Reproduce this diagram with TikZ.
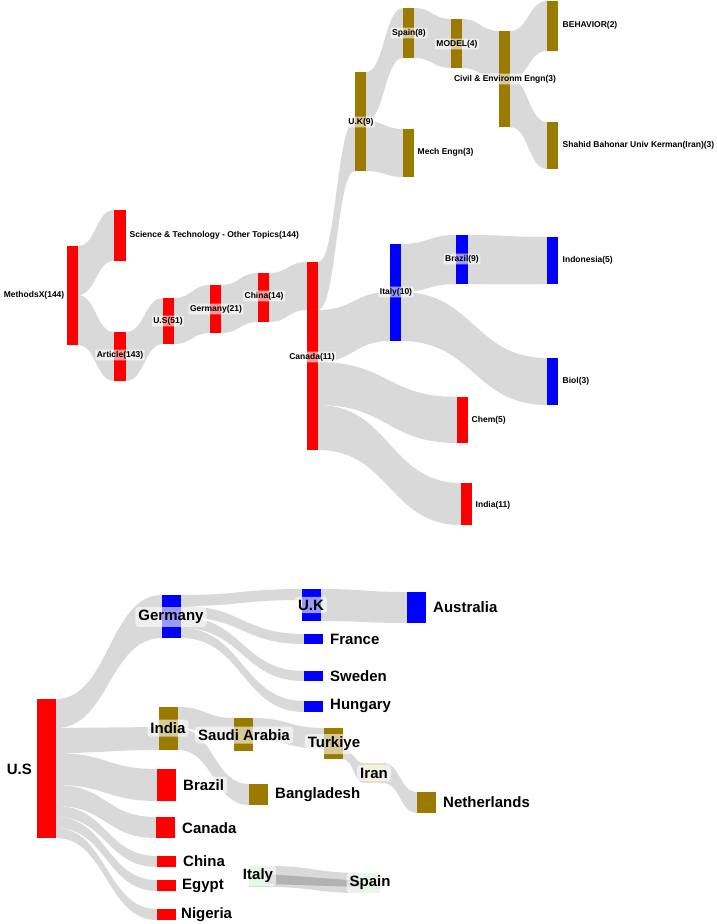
\documentclass[tikz,border=0pt]{standalone}
\usepackage{fontspec}
\setmainfont{Liberation Sans}
\definecolor{linkgray}{HTML}{D9D9D9}
\definecolor{olive}{HTML}{9A7B00}
\definecolor{tan}{HTML}{E8DEC0}
\definecolor{mint}{HTML}{C6E6C6}
% ribbon: x1, top1, bottom1, x2, top2, bottom2
\newcommand\flow[6]{%
  \pgfmathsetmacro\fmid{(#1+#4)/2}%
  \fill[linkgray] (#1,#2) .. controls (\fmid,#2) and (\fmid,#5) .. (#4,#5)
    -- (#4,#6) .. controls (\fmid,#6) and (\fmid,#3) .. (#1,#3) -- cycle;}
\begin{document}
\begin{tikzpicture}[x=1pt,y=-1pt,
    small/.style={font=\fontsize{8.5}{10}\selectfont\bfseries,inner sep=1.5pt,
      fill=white,fill opacity=0.6,text opacity=1,rounded corners=1pt},
    big/.style={font=\fontsize{15}{18}\selectfont\bfseries,inner sep=3pt,
      fill=white,fill opacity=0.6,text opacity=1,rounded corners=3pt},
    plain/.style={fill=none}]
\useasboundingbox (0,0) rectangle (716,924);

% links, top chart
\flow{78}{246}{295}{114}{210}{261}
\flow{78}{295}{345}{114}{332}{381}
\flow{126}{332}{381}{163}{298}{344}
\flow{174}{298}{344}{210}{285}{333}
\flow{221}{285}{333}{258}{273}{322}
\flow{269}{273}{322}{307}{262}{310}
\flow{318}{262}{310}{355}{121}{171}
\flow{318}{310}{362}{390}{292}{341}
\flow{318}{362}{405}{457}{397}{443}
\flow{318}{405}{450}{461}{483}{525}
\flow{366}{72}{121}{403}{8}{58}
\flow{366}{121}{171}{403}{129}{177}
\flow{414}{8}{58}{451}{19}{68}
\flow{462}{19}{68}{499}{31}{79}
\flow{510}{31}{79}{547}{1}{51}
\flow{510}{79}{127}{547}{122}{169}
\flow{401}{244}{292}{456}{235}{284}
\flow{468}{235}{284}{547}{237}{284}
\flow{401}{292}{341}{547}{358}{405}

% bars, top chart
\fill[red] (67,246) rectangle (78,345);
\fill[red] (114,210) rectangle (126,261);
\fill[red] (114,332) rectangle (126,381);
\fill[red] (163,298) rectangle (174,344);
\fill[red] (210,285) rectangle (221,333);
\fill[red] (258,273) rectangle (269,322);
\fill[red] (307,262) rectangle (318,450);
\fill[olive] (355,72) rectangle (366,171);
\fill[olive] (403,8) rectangle (414,58);
\fill[olive] (403,129) rectangle (414,177);
\fill[olive] (451,19) rectangle (462,68);
\fill[olive] (499,31) rectangle (510,127);
\fill[olive] (547,1) rectangle (558,51);
\fill[olive] (547,122) rectangle (558,169);
\fill[blue] (390,244) rectangle (401,341);
\fill[blue] (456,235) rectangle (468,284);
\fill[blue] (547,237) rectangle (558,284);
\fill[blue] (547,358) rectangle (558,405);
\fill[red] (457,397) rectangle (468,443);
\fill[red] (461,483) rectangle (472,525);

% labels, top chart
\node[small,plain,anchor=east] (methodsx) at (66,295) {MethodsX(144)};
\node[small,anchor=west] (scitech) at (128,235) {Science \& Technology - Other Topics(144)};
\node[small] (article) at (120,355) {Article(143)};
\node[small] (us1) at (168,321) {U.S(51)};
\node[small] (germany1) at (216,309) {Germany(21)};
\node[small] (china1) at (264,296) {China(14)};
\node[small] (canada1) at (312,357) {Canada(11)};
\node[small] (uk1) at (361,122) {U.K(9)};
\node[small] (spain1) at (409,33) {Spain(8)};
\node[small,anchor=west] (mech) at (416,152) {Mech Engn(3)};
\node[small] (model) at (457,44) {MODEL(4)};
\node[small] (civil) at (505,79) {Civil \& Environm Engn(3)};
\node[small,anchor=west] (behavior) at (561,25) {BEHAVIOR(2)};
\node[small,anchor=west] (shahid) at (561,145) {Shahid Bahonar Univ Kerman(Iran)(3)};
\node[small] (italy1) at (396,292) {Italy(10)};
\node[small] (brazil1) at (462,259) {Brazil(9)};
\node[small,anchor=west] (indonesia) at (561,260) {Indonesia(5)};
\node[small,anchor=west] (biol) at (561,381) {Biol(3)};
\node[small,anchor=west] (chem) at (470,420) {Chem(5)};
\node[small,anchor=west] (india1) at (474,505) {India(11)};

% links, bottom chart
\flow{56}{699}{728}{162}{595}{638}
\flow{56}{728}{753}{159}{727}{750}
\flow{56}{753}{785}{157}{769}{801}
\flow{56}{785}{806}{156}{817}{838}
\flow{56}{806}{817}{157}{856}{867}
\flow{56}{817}{828}{157}{880}{891}
\flow{56}{828}{838}{157}{909}{920}
\flow{181}{595}{606}{302}{589}{600}
\flow{321}{589}{621}{407}{592}{623}
\flow{181}{606}{617}{304}{634}{644}
\flow{181}{617}{628}{304}{671}{681}
\flow{181}{628}{638}{304}{701}{712}
\flow{178}{707}{728}{234}{718}{740}
\flow{178}{728}{750}{249}{784}{805}
\flow{253}{718}{740}{324}{728}{749}
\flow{343}{749}{759}{364}{763}{783}
\flow{383}{763}{783}{417}{792}{813}
\flow{268}{866}{887}{361}{873}{893}
\fill[gray!60] (268,874) -- (361,881) -- (361,887) -- (268,884) -- cycle;

% bars, bottom chart
\fill[red] (37,699) rectangle (56,838);
\fill[blue] (162,595) rectangle (181,638);
\fill[blue] (302,589) rectangle (321,621);
\fill[blue] (407,592) rectangle (426,623);
\fill[blue] (304,634) rectangle (323,644);
\fill[blue] (304,671) rectangle (323,681);
\fill[blue] (304,701) rectangle (323,712);
\fill[olive] (159,707) rectangle (178,750);
\fill[olive] (234,718) rectangle (253,751);
\fill[olive] (324,728) rectangle (343,759);
\fill[tan] (364,763) rectangle (383,783);
\fill[olive] (417,792) rectangle (436,813);
\fill[olive] (249,784) rectangle (268,805);
\fill[red] (157,769) rectangle (176,801);
\fill[red] (156,817) rectangle (175,838);
\fill[red] (157,856) rectangle (176,867);
\fill[red] (157,880) rectangle (176,891);
\fill[red] (157,909) rectangle (176,920);
\fill[mint] (249,866) rectangle (268,887);
\fill[mint] (361,873) rectangle (380,893);

% labels, bottom chart
\node[big,plain,anchor=east] (us2) at (35,769) {U.S};
\node[big] (germany2) at (171,617) {Germany};
\node[big] (uk2) at (311,605) {U.K};
\node[big,anchor=west] (australia) at (430,607) {Australia};
\node[big,anchor=west] (france) at (327,639) {France};
\node[big,anchor=west] (sweden) at (327,676) {Sweden};
\node[big,anchor=west] (hungary) at (327,706) {Hungary};
\node[big] (india2) at (168,728) {India};
\node[big] (saudi) at (244,735) {Saudi Arabia};
\node[big] (turkiye) at (334,744) {Turkiye};
\node[big] (iran) at (374,773) {Iran};
\node[big,anchor=west] (netherlands) at (440,802) {Netherlands};
\node[big,anchor=west] (bangladesh) at (272,795) {Bangladesh};
\node[big,anchor=west] (brazil2) at (180,785) {Brazil};
\node[big,anchor=west] (canada2) at (179,828) {Canada};
\node[big,anchor=west] (china2) at (180,861) {China};
\node[big,anchor=west] (egypt) at (179,886) {Egypt};
\node[big,anchor=west] (nigeria) at (178,915) {Nigeria};
\node[big] (italy2) at (258,876) {Italy};
\node[big] (spain2) at (370,883) {Spain};
\end{tikzpicture}
\end{document}
